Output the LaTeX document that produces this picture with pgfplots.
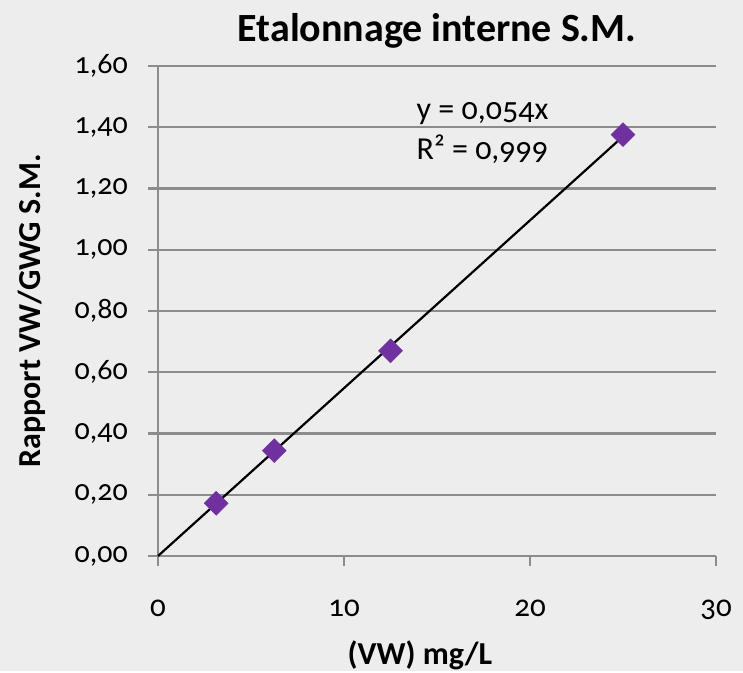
\documentclass[border=0pt]{standalone}
\usepackage{fontspec}
\setmainfont{Carlito}[Numbers=OldStyle]
\usepackage{pgfplots}
\pgfplotsset{compat=1.18}
\definecolor{bg}{RGB}{237,237,237}
\definecolor{gridc}{RGB}{140,140,140}
\definecolor{mk}{RGB}{112,48,160}
\begin{document}
\begin{tikzpicture}
\fill[bg] (0,0) rectangle (743pt,671pt);
\begin{axis}[
  at={(158pt,115pt)}, anchor=south west,
  width=558pt, height=490pt, scale only axis,
  xmin=0, xmax=30, ymin=0, ymax=1.6,
  xtick={0,10,20,30}, xticklabels={0,10,20,30},
  ytick={0,0.2,0.4,0.6,0.8,1.0,1.2,1.4,1.6},
  yticklabels={{0,00},{0,20},{0,40},{0,60},{0,80},{1,00},{1,20},{1,40},{1,60}},
  axis x line=bottom, axis y line=left,
  axis line style={-, gridc, line width=2.2pt},
  tick style={gridc, line width=2.2pt},
  tick align=outside, major tick length=10pt,
  ymajorgrids, grid style={gridc, line width=2.2pt},
  yticklabel style={font=\fontsize{30}{36}\selectfont, anchor=east, inner sep=0pt, xshift=-20pt},
  xticklabel style={font=\fontsize{31}{36}\selectfont, yshift=-30pt},
  title={Etalonnage interne S.M.},
  title style={font=\fontsize{40}{46}\bfseries\selectfont, at={(0.5,1)}, anchor=center, yshift=29pt},
  xlabel={(VW) mg/L},
  xlabel style={font=\fontsize{32}{38}\bfseries\selectfont, at={(0.5,0)}, anchor=center, yshift=-99pt, xshift=-17pt},
  ylabel={Rapport VW/GWG S.M.},
  ylabel style={font=\fontsize{32}{38}\bfseries\selectfont, at={(0,0.5)}, anchor=center, rotate=0, yshift=126pt},
  clip=false,
]
\addplot[black, line width=2.2pt] coordinates {(0,0) (25,1.37)};
\addplot[only marks, mark=square*, mark size=8.5pt, mark options={rotate=45, fill=mk, draw=mk}] coordinates {
  (3.125,0.172) (6.25,0.344) (12.5,0.670) (25,1.376)
};
\node[anchor=west, align=left, font=\fontsize{32}{40}\selectfont, inner sep=0pt] at (axis cs:13.9,1.381) {y = 0,054x\\R² = 0,999};
\end{axis}
\end{tikzpicture}
\end{document}
